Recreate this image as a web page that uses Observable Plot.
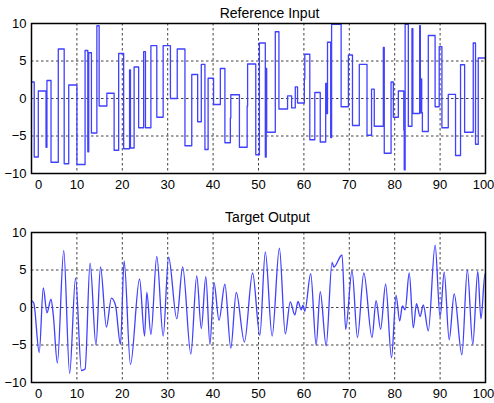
<!DOCTYPE html>
<html><head><meta charset="utf-8">
<script src="https://cdn.jsdelivr.net/npm/d3@7"></script>
<script src="https://cdn.jsdelivr.net/npm/@observablehq/plot@0.6"></script>
<style>
body{margin:0;background:#fff;}
#chart{width:494px;}
#chart svg{display:block;}
</style></head><body><div id="chart"></div>
<script>
// Reference Input (step signal): change times and held values
const refT = [0,0.6,1.5,3.2,3.4,4.3,5.9,7.2,8.2,10.0,11.8,12.4,12.6,13.2,14.4,14.9,16.6,18.2,19.2,20.3,21.6,21.8,22.6,23.6,24.7,25.1,26.3,27.6,29.0,30.6,32.1,33.8,35.3,36.6,37.4,38.2,38.9,40.1,41.6,42.6,43.8,43.9,45.8,47.5,47.6,49.4,50.2,51.5,51.7,51.8,53.7,54.5,56.4,57.3,58.1,58.6,60.1,60.2,61.3,62.4,63.6,64.8,65.0,65.2,65.9,66.1,68.2,69.8,70.7,72.2,73.9,74.9,75.5,77.5,77.7,79.2,79.7,80.8,82.0,82.1,82.3,83.0,83.8,84.0,85.5,85.65,85.85,85.95,86.1,87.4,88.9,89.8,90.4,91.8,93.4,94.5,95.4,97.3,97.8,98.4,100];
const refV = [2.2,-7.8,1.0,-6.5,2.4,-8.5,6.6,-8.7,1.8,-8.8,6.4,-7.1,6.1,-4.6,9.7,-1.0,0.7,-6.9,6.0,-6.7,3.8,-6.6,4.2,-3.9,6.25,-3.9,7.05,-2.5,7.05,0,6.6,-6.3,3.2,-3.1,4.55,-6.8,2.7,-0.8,4.0,-5.9,-2.6,0.5,-6.5,-1.0,4.6,-7.5,7.4,-7.8,4.0,-4.5,8.9,-1.4,0.35,-1.25,1.55,-0.6,2.6,5.9,-5.5,0.8,-5.8,2.0,-2.0,7.5,-5.2,9.9,-1.1,5.8,-3.6,4.55,-4.9,1.25,-3.7,6.8,-7.3,2.2,-2.5,1.0,-4.2,-9.5,9.9,-3.7,9.3,-2.0,9.7,-1.9,2.6,-1.9,-4.4,8.4,-1.1,6.9,-3.9,0.55,-7.6,4.5,-4.5,7.4,-6.1,5.4,5.4];

// Target Output (oscillating response): turning points
const outT = [0,0.5,1.7,2.6,3.4,4.3,4.8,5.7,7.1,8.4,9.7,11.0,11.8,12.9,14.2,15.2,16.5,17.6,18.5,19.6,20.4,21.8,23.8,24.9,25.4,26.3,27.6,29.0,30.2,32.0,33.3,35.1,36.4,37.4,38.4,39.3,40.2,41.3,42.6,43.9,45.1,46.9,48.7,50.3,51.5,53.0,54.6,55.9,57.0,58.0,58.7,59.4,59.8,60.2,61.5,62.7,63.6,64.9,66.2,66.6,68.4,69.2,70.6,71.8,73.2,75.0,75.9,76.9,78.0,79.3,80.3,81.1,81.7,82.3,83.2,84.1,84.8,85.6,86.3,87.4,88.9,90.0,90.9,92.0,93.1,94.8,96.0,97.2,98.3,99.0,99.9,100];
const outV = [0.9,0.6,-6.0,2.6,-0.7,1.1,-1.0,-7.4,7.6,-8.8,3.9,-8.4,-8.2,5.9,-5.0,5.4,-2.6,1.25,0.3,-4.9,6.2,-7.6,3.8,-3.8,2.0,-3.6,6.8,-3.8,6.7,-1.5,5.4,-6.2,4.2,-2.8,4.1,-4.9,3.3,-1.7,3.1,-5.4,2.0,-4.6,4.6,-3.7,7.4,-3.8,7.9,-3.5,0.75,-1.0,0.8,-0.3,0.3,-0.5,4.5,-5.0,2.1,-5.1,6.0,5.4,7.0,-2.9,4.9,-4.0,4.6,-4.0,0.9,-2.9,3.1,-6.7,1.6,-1.8,0.2,-0.3,4.6,-2.7,0.5,-1.2,0.35,-3.1,8.3,-1.3,4.7,-4.3,1.8,-6.3,5.0,-4.9,4.8,-1.5,4.5,4.4];

const xTicks = [0,10,20,30,40,50,60,70,80,90,100];
const yTicks = [-10,-5,0,5,10];
const titles = ["Reference Input", "Target Output"];

function panel(t, v, title, curve, o) {
  const data = t.map((x, i) => ({t: x, v: v[i]}));
  const gridStyle = {stroke: "#222", strokeOpacity: 0.85, strokeWidth: 1, strokeDasharray: "2.5,2.5"};
  const ax = {tickSize: 0, tickPadding: 6, fontSize: 13, label: null};
  return Plot.plot({
    width: 494, height: o.height,
    marginLeft: 31, marginRight: 9, marginTop: o.mt, marginBottom: o.mb,
    style: {fontFamily: "'Liberation Sans', Arial, sans-serif", fontSize: "13px", background: "#fff", color: "#000"},
    x: {domain: [0, 100]},
    y: {domain: [-10, 10]},
    marks: [
      Plot.gridX(xTicks, gridStyle),
      Plot.gridY(yTicks, gridStyle),
      Plot.line(data, {x: "t", y: "v", curve, stroke: "#4040ff", strokeWidth: 1.3}),
      Plot.frame({stroke: "#000", strokeWidth: 1.5}),
      Plot.axisX(xTicks.slice(1, -1), ax),
      Plot.axisX(xTicks.slice(0, 1), {...ax, dx: 7}),
      Plot.axisX(xTicks.slice(-1), {...ax, dx: -2}),
      Plot.axisY(yTicks, {tickSize: 0, tickPadding: 5, fontSize: 13, label: null}),
      Plot.text([title], {frameAnchor: "top", lineAnchor: "middle", dy: o.tdy, dx: o.tdx, fontSize: 14, fill: "#000"})
    ]
  });
}

const chart = document.getElementById("chart");
chart.append(panel(refT, refV, titles[0], "step-after", {height: 201, mt: 23, mb: 28, tdy: -10, tdx: 11}));
chart.append(panel(outT, outV, titles[1], "monotone-x", {height: 202, mt: 31, mb: 21, tdy: -15, tdx: 9}));
</script></body></html>
